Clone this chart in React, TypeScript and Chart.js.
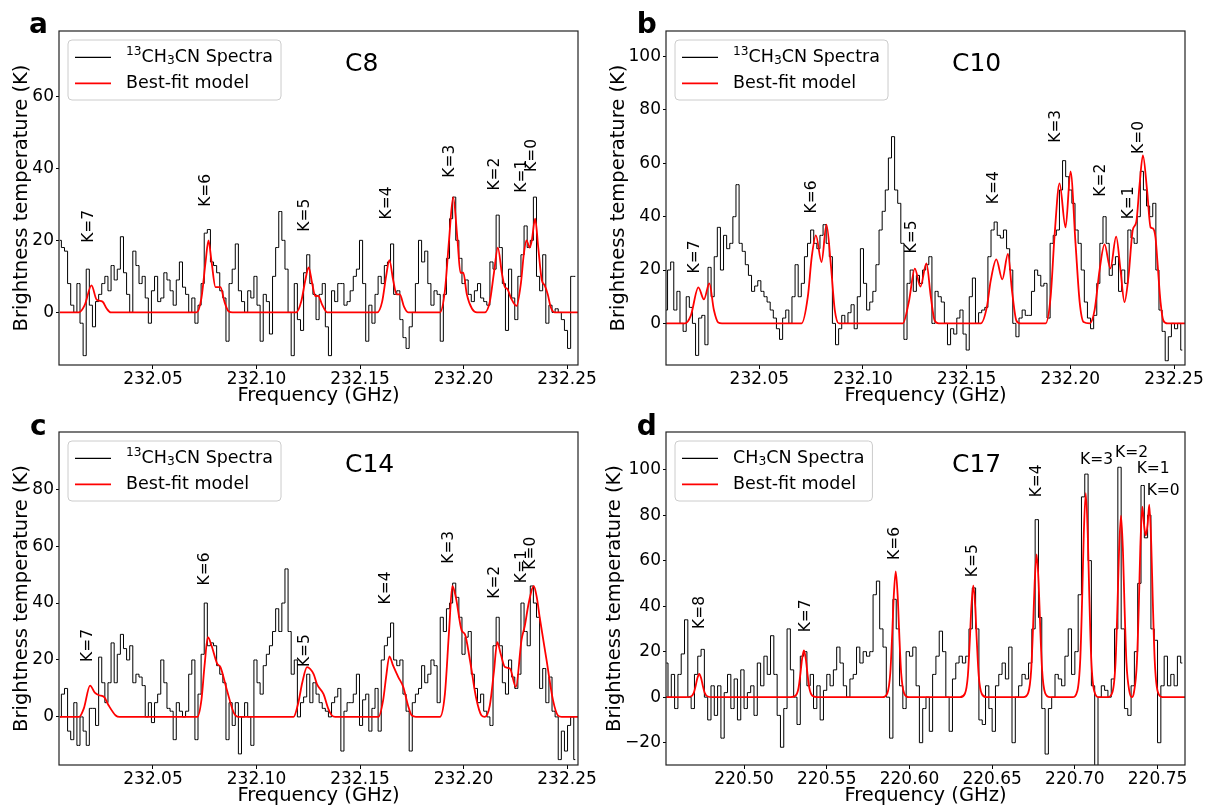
import React, { useEffect, useRef } from "react";
import { Chart, registerables } from "chart.js";

Chart.register(...registerables);

const FONT = '"DejaVu Sans", "Liberation Sans", sans-serif';

// ---------- shared axis ticks ----------
const xTicks13 = [232.05, 232.1, 232.15, 232.2, 232.25];
const xTicksD = [220.5, 220.55, 220.6, 220.65, 220.7, 220.75];
const yTicksA = [0, 20, 40, 60];
const yTicksB = [0, 20, 40, 60, 80, 100];
const yTicksC = [0, 20, 40, 60, 80];
const yTicksD = [-20, 0, 20, 40, 60, 80, 100];

// ---------- panel a (C8) ----------
const freqStartA = 232.005;
const chanA = 0.0015;
const spectrumA = [
  20, 18, 17, 8, 2, 0, 8, -3, -12, 12,
  2, -4, 3, 5, 8, 10, 6, 13, 9, 12,
  21, 11, 5, 0, 17, 13, 8, 10, 4, -3,
  6, 10, 3, 4, 11, 9, 6, 2, 9, 14,
  7, 5, 0, 4, -3, 2, 8, 22, 23, 14,
  13, 11, 6, 4, -8, 8, 12, 19, 6, 3,
  0, 6, 4, 10, 2, -8, 5, 3, -6, 10,
  18, 28, 20, 12, 0, -12, 8, -2, -5, 11,
  16, 8, 5, -2, 5, 8, -4, -12, 6, 3,
  8, 8, 2, 3, 6, 10, 12, 20, 8, -8,
  2, -3, 5, 10, 8, 13, 14, 19, 5, 6,
  -2, -7, -10, -4, 0, 8, 20, 14, 17, 8,
  2, 6, 5, -8, 5, 15, 26, 32, 20, 15,
  8, 9, 5, 3, 6, 8, 4, 3, 2, 14,
  12, 27, 18, 8, -5, 12, 4, -2, 10, 16,
  24, 18, 20, 32, 10, 6, 16, -3, 2, 0,
  1, 0, -2, -5, -10, 10, 10,
];
const modelFreqA = [
  232.005, 232.0142, 232.017, 232.0203, 232.0228, 232.0256, 232.0277, 232.0296,
  232.071, 232.0734, 232.0754, 232.0768, 232.0783, 232.0802, 232.0826, 232.0845, 232.0865, 232.0884,
  232.1192, 232.1216, 232.1236, 232.1252, 232.1269, 232.1284, 232.1298, 232.1318, 232.1342,
  232.1583, 232.1607, 232.1626, 232.1642, 232.166, 232.1677, 232.1692, 232.1713, 232.1732,
  232.1886, 232.191, 232.193, 232.195, 232.1971, 232.1985, 232.1999, 232.2016, 232.2041, 232.2065,
  232.2103, 232.2127, 232.2147, 232.2166, 232.2185, 232.22, 232.2212, 232.2229, 232.2256, 232.2277,
  232.2291, 232.2304, 232.232, 232.233, 232.2346, 232.2361, 232.2378, 232.2392, 232.2407, 232.2421,
  232.2441, 232.2553,
];
const modelA = [
  0, 0, 2, 7.5, 3.5, 3, 1, 0,
  0, 4, 14, 20, 14, 7, 7, 3, 0.3, 0,
  0, 3, 9, 12.5, 8, 4.5, 4.6, 2, 0,
  0, 3, 10, 14.5, 9, 5, 5, 1.5, 0,
  0, 6, 20, 32, 20, 11, 11, 5, 1, 0,
  0, 3, 11, 18, 11, 7, 6.5, 4, 1.8, 8,
  16, 20, 18, 20, 26, 18, 9, 7.5, 5, 1.5,
  0, 0,
];
const kLabels13 = ["K=7", "K=6", "K=5", "K=4", "K=3", "K=2", "K=1", "K=0"];
const kFreqA = [232.0191, 232.0754, 232.1236, 232.1632, 232.1934, 232.2151, 232.228, 232.2331];
const kYA = [19.3, 29.3, 22.4, 25.8, 37.4, 33.8, 33.2, 39];

// ---------- panel b (C10) ----------
const freqStartB = 232.005;
const chanB = 0.0015;
const spectrumB = [
  5, 20, 23, 5, 12, 0, -3, 10, 6, 0,
  -12, 2, 3, -8, 21, 10, 25, 36, 20, 33,
  28, 30, 40, 52, 30, 27, 22, 18, 12, 14,
  16, 12, 10, 8, 5, 2, -2, -6, 2, 5,
  0, 10, 22, 10, 15, 25, 30, 35, 30, 28,
  33, 37, 30, 25, 0, -8, -2, 3, 0, 4,
  7, -2, 10, 28, 15, 5, 8, 12, 22, 35,
  42, 50, 62, 70, 50, 45, 30, -6, 15, 20,
  12, 18, 15, 20, 22, 25, 0, 12, 10, 8,
  0, -8, -2, -4, 2, 5, -4, -10, 10, 17,
  0, 4, 5, 6, 25, 35, 38, 33, 32, 35,
  28, 20, 0, -5, 2, 5, 3, 3, 12, 20,
  18, 14, 15, 2, 30, 33, 35, 50, 61, 55,
  50, 45, 35, 30, 20, 8, 2, -2, 3, 15,
  30, 40, 30, 18, 22, 25, 12, 20, 15, 35,
  32, 30, 40, 57, 50, 44, 40, 45, 20, 5,
  -3, -14, -5, 0, -2, 0, -10,
];
const modelFreqB = [
  232.005, 232.0142, 232.017, 232.0206, 232.0233, 232.0259, 232.0281, 232.0302, 232.032,
  232.0704, 232.0734, 232.0753, 232.0773, 232.08, 232.0824, 232.0845, 232.0864, 232.0884,
  232.1192, 232.1221, 232.125, 232.1277, 232.1306, 232.1327, 232.1346, 232.1365,
  232.1568, 232.1597, 232.1616, 232.1643, 232.1672, 232.1699, 232.1719, 232.174, 232.176,
  232.1881, 232.1905, 232.1924, 232.1948, 232.1977, 232.2001, 232.2025, 232.2045, 232.2064,
  232.2093, 232.2117, 232.2141, 232.2165, 232.2193, 232.2221, 232.2242, 232.2261, 232.2281, 232.2301,
  232.2318, 232.2334, 232.235, 232.237, 232.2387, 232.2398, 232.2411, 232.2422, 232.2435, 232.2449,
  232.2469, 232.2553,
];
const modelB = [
  0, 0, 3, 13.5, 9, 15, 5, 0.3, 0,
  0, 10, 25, 33, 23, 37, 22, 5, 0,
  0, 8, 20.5, 13.8, 22.5, 10, 1, 0,
  0, 6, 16, 24, 16.5, 26, 12, 1, 0,
  0, 10, 33, 52.5, 36, 57, 30, 8, 0.5,
  0, 5, 20, 29.6, 20.6, 32.5, 20, 8, 18, 35,
  38, 52, 63, 50, 36, 35.6, 32, 21, 8, 1,
  0, 0,
];
const kFreqB = [232.019, 232.0752, 232.1234, 232.163, 232.1932, 232.2149, 232.2282, 232.233];
const kYB = [18.7, 41.2, 26.2, 44.7, 67.7, 47.5, 39, 63.5];

// ---------- panel c (C14) ----------
const freqStartC = 232.005;
const chanC = 0.0015;
const spectrumC = [
  0, 8, 10, -5, -8, 5, -10, 0, -5, -10,
  3, 3, -3, 21, 12, 5, 12, 26, 12, 22,
  29, 24, 20, 25, 12, 15, 14, 11, 0, 5,
  -2, 5, 8, 20, 12, 3, 2, -8, 5, 2,
  0, 2, 15, 20, -8, 8, 22, 40, 25, 26,
  25, 18, 15, 12, -8, 5, -3, 5, -13, 0,
  5, 0, -10, 20, 12, 8, 18, 22, 25, 30,
  38, 30, 40, 52, 30, 15, 20, 0, 5, 7,
  15, 5, 12, 8, 5, 3, 2, 0, 5, 7,
  10, -12, 2, 5, 5, 8, 15, -3, 6, 8,
  -5, 3, 10, -5, 20, 25, 28, 33, 20, 18,
  20, 8, 2, -12, 5, 8, 10, 18, 12, 15,
  20, 18, 5, 35, 30, 38, 40, 47, 42, 35,
  22, 28, 30, 15, 10, 5, 8, 2, 0, -3,
  25, 35, 25, 12, 8, 20, 14, 10, 15, 40,
  30, 25, 46, 40, 35, 10, 17, 5, 14, 2,
  0, -15, -5, -12, -3, 0, -15,
];
const modelFreqC = [
  232.005, 232.0143, 232.0166, 232.0196, 232.0219, 232.0239, 232.0264, 232.0286, 232.032, 232.0339,
  232.0714, 232.0734, 232.0749, 232.0765, 232.0783, 232.081, 232.0826, 232.0855, 232.089, 232.0913,
  232.1179, 232.1202, 232.1221, 232.1244, 232.1276, 232.1292, 232.1324, 232.1346, 232.1364, 232.138,
  232.1589, 232.1612, 232.1626, 232.1642, 232.166, 232.1685, 232.1709, 232.1732, 232.175, 232.177,
  232.1886, 232.191, 232.193, 232.1946, 232.1963, 232.1991, 232.2007, 232.2031, 232.206, 232.2087,
  232.2103, 232.2127, 232.2147, 232.2163, 232.218, 232.22, 232.2224, 232.2253, 232.228, 232.2296,
  232.2315, 232.2339, 232.2354, 232.2368, 232.2401, 232.2432, 232.2456, 232.2474, 232.2553,
];
const modelC = [
  0, 0, 3, 11, 8.5, 7.6, 7, 4, 0.5, 0,
  0, 6, 18, 28, 25, 18.7, 17.5, 10, 1.5, 0,
  0, 5, 12, 17.5, 15, 11.5, 8, 3, 0.5, 0,
  0, 6, 14, 21.3, 18, 14, 10.5, 4, 0.5, 0,
  0, 8, 30, 46, 42, 30.4, 29, 20, 7, 0.5,
  0, 4, 16, 26.3, 22, 17.5, 17, 10.5, 27, 32,
  40, 46, 42, 35, 20, 6, 0.5, 0, 0,
];
const kFreqC = [232.0186, 232.0749, 232.1236, 232.1626, 232.1931, 232.2151, 232.228, 232.2328];
const kYC = [19.3, 46.2, 17.5, 39.5, 53.8, 41.5, 47, 51.7];

// ---------- panel d (C17) ----------
const freqStartD = 220.453;
const chanD = 0.002;
const spectrumD = [
  15, 0, 10, -5, 10, 19, 34, 0, -5, 10,
  18, 21, 0, -10, 5, -8, 5, -18, 2, 10,
  -5, 8, -10, 12, -5, 2, 5, -8, 15, 5,
  18, 10, 27, 10, -8, -22, -5, 30, 12, 0,
  -12, 18, 20, 5, 10, -5, 5, -10, 3, 10,
  5, 12, 22, 15, 5, 0, 8, 10, 22, 15,
  20, 18, 20, 45, 51, 30, 22, 0, -18, 43,
  30, 5, -5, 20, 18, 22, 5, -20, -5, 0,
  -15, 10, 18, 29, 20, 0, -15, 8, 15, 18,
  15, 18, 30, 48, 30, -10, -12, 5, -5, -15,
  5, 10, 15, 8, 22, -20, 0, 5, 10, 8,
  15, 30, 78, 35, -5, -25, -5, 0, 10, 8,
  5, 18, 30, 10, 20, 45, 88, 98, 60, 5,
  -30, 0, 5, 3, 0, 8, 30, 101, 30, -5,
  -8, 5, 20, 50, 93, 70, 80, 30, 25, -20,
  5, 18, 5, 10, 5, 18, 15,
];
const modelFreqD = [
  220.4528, 220.4649, 220.4678, 220.4696, 220.4708, 220.4717, 220.4729, 220.4741, 220.475, 220.4762, 220.478, 220.4809,
  220.5282, 220.5311, 220.5329, 220.5341, 220.535, 220.5362, 220.5374, 220.5383, 220.5395, 220.5413, 220.5442,
  220.5837, 220.5866, 220.5884, 220.5896, 220.5905, 220.5917, 220.5929, 220.5938, 220.595, 220.5968, 220.5997,
  220.6306, 220.6335, 220.6353, 220.6365, 220.6374, 220.6386, 220.6398, 220.6407, 220.6419, 220.6437, 220.6466,
  220.6689, 220.6718, 220.6736, 220.6748, 220.6757, 220.6769, 220.6781, 220.679, 220.6802, 220.682, 220.6849,
  220.6986, 220.7015, 220.7033, 220.7045, 220.7054, 220.7066, 220.7078, 220.7087, 220.7099, 220.7117, 220.7146,
  220.7199, 220.7228, 220.7246, 220.7258, 220.7267, 220.7279, 220.7291, 220.73, 220.7312, 220.733, 220.7345,
  220.7357, 220.7375, 220.7387, 220.7396, 220.7408, 220.7418, 220.7429, 220.744, 220.745, 220.7462, 220.7471,
  220.7483, 220.7501, 220.753, 220.7666,
];
const modelD = [
  0, 0, 0.3, 1.9, 5.2, 8.2, 10.2, 8.2, 5.2, 1.9, 0.3, 0,
  0, 0.6, 3.9, 10.5, 16.4, 20.5, 16.4, 10.5, 3.9, 0.6, 0,
  0, 1.7, 10.5, 28.2, 44.2, 55.3, 44.2, 28.2, 10.5, 1.7, 0,
  0, 1.5, 9.3, 25, 39.2, 49, 39.2, 25, 9.3, 1.5, 0,
  0, 1.9, 11.9, 32, 50.2, 62.7, 50.2, 32, 11.9, 1.9, 0,
  0, 2.7, 17, 45.7, 71.7, 89.6, 71.7, 45.7, 17, 2.7, 0,
  0, 2.4, 15.2, 40.7, 63.8, 79.8, 63.8, 40.7, 15.2, 2.4, 0,
  2, 15, 41, 66, 83.7, 76, 71, 76, 84.6, 67, 43,
  16, 2.5, 0, 0,
];
const kLabelsD = ["K=8", "K=7", "K=6", "K=5", "K=4", "K=3", "K=2", "K=1", "K=0"];
const kFreqD = [220.4734, 220.5374, 220.5912, 220.6386, 220.6769, 220.7031, 220.7243, 220.7374, 220.7434];
const kYD = [30, 28.5, 60.3, 52.7, 87.8, 102.3, 105.5, 98.5, 89];
const kVerticalD = [true, true, true, true, true, false, false, false, false];

// ---------- text pieces ----------
type Seg = { t: string; m: number };
const legend13: Seg[] = [
  { t: "13", m: 1 },
  { t: "CH", m: 0 },
  { t: "3", m: -1 },
  { t: "CN Spectra", m: 0 },
];
const legend12: Seg[] = [
  { t: "CH", m: 0 },
  { t: "3", m: -1 },
  { t: "CN Spectra", m: 0 },
];
const modelLabel = "Best-fit model";

const panels = [
  {
    letter: "a", title: "C8", left: 0, top: 0, w: 600, h: 408,
    pad: { top: 31, right: 22, left: 0, bottom: 0 }, yW: 59, xH: 43, yTitlePad: 10, xTitlePad: 0,
    letterPos: [29, 33], freqStart: freqStartA, chan: chanA, spec: spectrumA,
    mFreq: modelFreqA, mVal: modelA, xMin: 232.0046, xMax: 232.2553, yMin: -14.6, yMax: 78.1,
    xTicks: xTicks13, yTicks: yTicksA, kText: kLabels13, kFreq: kFreqA, kY: kYA, kVert: null as boolean[] | null,
    legend: legend13,
  },
  {
    letter: "b", title: "C10", left: 600, top: 0, w: 605, h: 408,
    pad: { top: 31, right: 20, left: 0, bottom: 0 }, yW: 66, xH: 43, yTitlePad: 6.8, xTitlePad: 0,
    letterPos: [36.7, 33], freqStart: freqStartB, chan: chanB, spec: spectrumB,
    mFreq: modelFreqB, mVal: modelB, xMin: 232.005, xMax: 232.2553, yMin: -15.6, yMax: 109.6,
    xTicks: xTicks13, yTicks: yTicksB, kText: kLabels13, kFreq: kFreqB, kY: kYB, kVert: null,
    legend: legend13,
  },
  {
    letter: "c", title: "C14", left: 0, top: 405, w: 600, h: 403,
    pad: { top: 27, right: 22, left: 0, bottom: 0 }, yW: 59, xH: 43, yTitlePad: 10, xTitlePad: 0,
    letterPos: [30, 30], freqStart: freqStartC, chan: chanC, spec: spectrumC,
    mFreq: modelFreqC, mVal: modelC, xMin: 232.0046, xMax: 232.2553, yMin: -16.9, yMax: 100.1,
    xTicks: xTicks13, yTicks: yTicksC, kText: kLabels13, kFreq: kFreqC, kY: kYC, kVert: null,
    legend: legend13,
  },
  {
    letter: "d", title: "C17", left: 600, top: 405, w: 605, h: 403,
    pad: { top: 27, right: 20, left: 0, bottom: 0 }, yW: 66, xH: 43, yTitlePad: 3.3, xTitlePad: 0,
    letterPos: [36.7, 30], freqStart: freqStartD, chan: chanD, spec: spectrumD,
    mFreq: modelFreqD, mVal: modelD, xMin: 220.4528, xMax: 220.7666, yMin: -29.8, yMax: 116.5,
    xTicks: xTicksD, yTicks: yTicksD, kText: kLabelsD, kFreq: kFreqD, kY: kYD, kVert: kVerticalD,
    legend: legend12,
  },
];

type PanelCfg = (typeof panels)[number];

function drawRich(ctx: CanvasRenderingContext2D, segs: Seg[], x: number, y: number, size: number, measureOnly = false) {
  let cx = x;
  for (const s of segs) {
    const fs = s.m === 0 ? size : size * 0.7;
    ctx.font = `${fs}px ${FONT}`;
    const dy = s.m === 1 ? -size * 0.32 : s.m === -1 ? size * 0.22 : 0;
    if (!measureOnly) ctx.fillText(s.t, cx, y + dy);
    cx += ctx.measureText(s.t).width;
  }
  return cx - x;
}

function fmtY(v: number) {
  return v < 0 ? "\u2212" + Math.abs(v) : String(v);
}

function Panel({ cfg }: { cfg: PanelCfg }) {
  const ref = useRef<HTMLCanvasElement>(null);
  useEffect(() => {
    const canvas = ref.current!;
    const specData = cfg.spec.map((v, i) => ({ x: cfg.freqStart + i * cfg.chan, y: v }));
    const modelData = cfg.mFreq.map((f, i) => ({ x: f, y: cfg.mVal[i] }));

    const decor = {
      id: "decor",
      afterDraw(chart: any) {
        const { ctx, chartArea: ca, scales } = chart;
        const xs = scales.x;
        const ys = scales.y;
        ctx.save();
        // frame
        ctx.strokeStyle = "#222";
        ctx.lineWidth = 1.2;
        ctx.strokeRect(ca.left, ca.top, ca.right - ca.left, ca.bottom - ca.top);

        // K labels
        ctx.fillStyle = "#000";
        ctx.font = `15.5px ${FONT}`;
        cfg.kText.forEach((t, i) => {
          const px = xs.getPixelForValue(cfg.kFreq[i]);
          const py = ys.getPixelForValue(cfg.kY[i]);
          const vert = cfg.kVert ? cfg.kVert[i] : true;
          if (vert) {
            ctx.save();
            ctx.translate(px, py);
            ctx.rotate(-Math.PI / 2);
            ctx.textAlign = "left";
            ctx.textBaseline = "middle";
            ctx.fillText(t, 0, 0);
            ctx.restore();
          } else {
            ctx.textAlign = "left";
            ctx.textBaseline = "alphabetic";
            ctx.fillText(t, px, py);
          }
        });

        // panel title
        ctx.font = `25px ${FONT}`;
        ctx.textAlign = "left";
        ctx.textBaseline = "alphabetic";
        ctx.fillText(cfg.title, ca.left + 286, ca.top + 40);

        // legend
        const lsize = 17.5;
        ctx.textBaseline = "middle";
        ctx.textAlign = "left";
        const w1 = drawRich(ctx, cfg.legend, 0, 0, lsize, true);
        ctx.font = `${lsize}px ${FONT}`;
        const w2 = ctx.measureText(modelLabel).width;
        const bx = ca.left + 9;
        const by = ca.top + 9;
        const bw = 58 + Math.max(w1, w2) + 8;
        const bh = 60;
        ctx.beginPath();
        ctx.roundRect(bx, by, bw, bh, 4);
        ctx.fillStyle = "rgba(255,255,255,0.85)";
        ctx.fill();
        ctx.strokeStyle = "#cccccc";
        ctx.lineWidth = 1;
        ctx.stroke();
        const r1 = by + 17.3;
        const r2 = by + 43.3;
        ctx.lineWidth = 1.2;
        ctx.strokeStyle = "#000";
        ctx.beginPath();
        ctx.moveTo(bx + 7, r1);
        ctx.lineTo(bx + 43, r1);
        ctx.stroke();
        ctx.lineWidth = 1.8;
        ctx.strokeStyle = "#ff0000";
        ctx.beginPath();
        ctx.moveTo(bx + 7, r2);
        ctx.lineTo(bx + 43, r2);
        ctx.stroke();
        ctx.fillStyle = "#000";
        drawRich(ctx, cfg.legend, bx + 58, r1, lsize);
        ctx.font = `${lsize}px ${FONT}`;
        ctx.fillText(modelLabel, bx + 58, r2);

        // panel letter
        ctx.font = `bold 28px ${FONT}`;
        ctx.textBaseline = "alphabetic";
        ctx.fillText(cfg.letter, cfg.letterPos[0], cfg.letterPos[1]);
        ctx.restore();
      },
    };

    const chart = new Chart(canvas, {
      type: "line",
      data: {
        datasets: [
          {
            label: "Best-fit model",
            data: modelData,
            borderColor: "#ff0000",
            borderWidth: 1.8,
            pointRadius: 0,
            fill: false,
            cubicInterpolationMode: "monotone",
          },
          {
            label: "Spectra",
            data: specData,
            borderColor: "#000000",
            borderWidth: 1,
            pointRadius: 0,
            fill: false,
            stepped: "middle",
          },
        ],
      },
      options: {
        animation: false,
        responsive: false,
        maintainAspectRatio: false,
        events: [],
        layout: { padding: cfg.pad },
        plugins: { legend: { display: false }, tooltip: { enabled: false }, title: { display: false } },
        scales: {
          x: {
            type: "linear",
            min: cfg.xMin,
            max: cfg.xMax,
            afterBuildTicks: (axis: any) => {
              axis.ticks = cfg.xTicks.map((v) => ({ value: v }));
            },
            afterFit: (axis: any) => {
              axis.height = cfg.xH;
            },
            ticks: {
              autoSkip: false,
              maxRotation: 0,
              padding: 0,
              color: "#000",
              font: { family: FONT, size: 17 },
              callback: (v: any) => Number(v).toFixed(2),
            },
            grid: { display: true, drawOnChartArea: false, drawTicks: true, tickLength: 4, color: "#000" },
            border: { display: false },
            title: {
              display: true,
              text: "Frequency (GHz)",
              color: "#000",
              font: { family: FONT, size: 19.5 },
              padding: { top: 0, bottom: cfg.xTitlePad },
            },
          },
          y: {
            type: "linear",
            min: cfg.yMin,
            max: cfg.yMax,
            afterBuildTicks: (axis: any) => {
              axis.ticks = cfg.yTicks.map((v) => ({ value: v }));
            },
            afterFit: (axis: any) => {
              axis.width = cfg.yW;
            },
            ticks: {
              autoSkip: false,
              padding: 2,
              color: "#000",
              font: { family: FONT, size: 17 },
              callback: (v: any) => fmtY(Number(v)),
            },
            grid: { display: true, drawOnChartArea: false, drawTicks: true, tickLength: 3, color: "#000" },
            border: { display: false },
            title: {
              display: true,
              text: "Brightness temperature (K)",
              color: "#000",
              font: { family: FONT, size: 19.5 },
              padding: { top: cfg.yTitlePad, bottom: 0 },
            },
          },
        },
      },
      plugins: [decor],
    } as any);
    return () => chart.destroy();
  }, [cfg]);
  return (
    <canvas
      ref={ref}
      width={cfg.w}
      height={cfg.h}
      style={{ position: "absolute", left: cfg.left, top: cfg.top, width: cfg.w, height: cfg.h }}
    />
  );
}

export default function App() {
  return (
    <div style={{ position: "absolute", left: 0, top: 0, width: 1205, height: 808, background: "#fff" }}>
      {panels.map((p) => (
        <Panel key={p.letter} cfg={p} />
      ))}
    </div>
  );
}
